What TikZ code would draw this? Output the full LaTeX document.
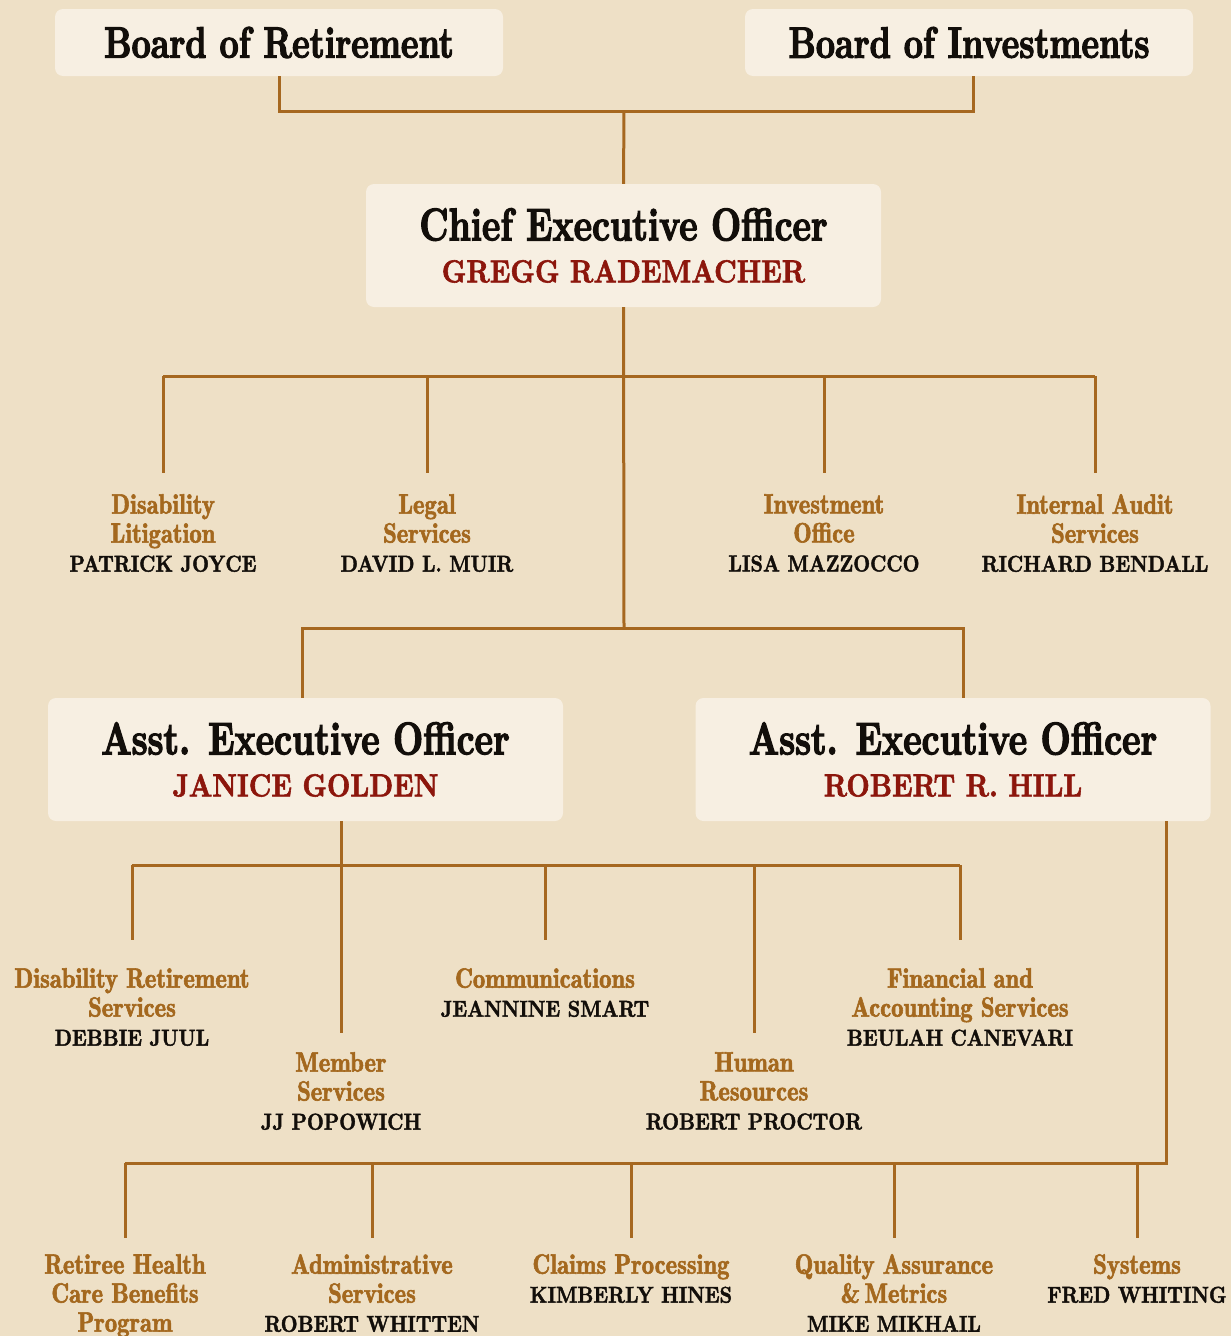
\documentclass[tikz,border=0pt]{standalone}
\usepackage{fontspec}
\newfontfamily\titlefont{lmroman10-bold.otf}[FakeStretch=0.76,FakeBold=2.5]
\newfontfamily\namefont{lmroman10-bold.otf}[FakeStretch=0.85,FakeBold=1.8]
\newfontfamily\deptfont{lmromandemi10-regular.otf}[FakeStretch=0.88,FakeBold=2]
\definecolor{bg}{RGB}{238,224,198}
\definecolor{boxfill}{RGB}{247,239,226}
\definecolor{linkcol}{RGB}{166,104,32}
\definecolor{deptcol}{RGB}{164,104,30}
\definecolor{redname}{RGB}{140,22,12}
\definecolor{ink}{RGB}{18,14,10}
\newcommand\headname[1]{{\namefont\fontsize{32}{42}\selectfont\color{redname}#1}}
\newcommand\leadname[1]{{\namefont\fontsize{23}{29}\selectfont\color{ink}#1}}
\tikzset{
  board/.style={fill=boxfill,rounded corners=8pt,inner sep=0pt,minimum width=448pt,
    minimum height=67pt,text=ink,font=\titlefont\fontsize{44}{44}\selectfont},
  exec/.style ={fill=boxfill,rounded corners=8pt,inner sep=0pt,minimum width=515pt,
    minimum height=123pt,align=center,text=ink,font=\fontsize{32}{42}\selectfont},
  unit/.style ={anchor=north,inner sep=0pt,align=center,text=deptcol,
    font=\deptfont\fontsize{28}{29}\selectfont},
  link/.style ={draw=linkcol,line width=3pt},
}
\begin{document}
\begin{tikzpicture}[x=1pt,y=-1pt]
  \fill[bg] (0,0) rectangle (1231,1336);
  \useasboundingbox (0,0) rectangle (1231,1336);
  % boards and executives
  \node[board] (bret) at (279,42.5) {Board of Retirement};
  \node[board] (binv) at (969,42.5) {Board of Investments};
  \node[exec] (ceo) at (623.5,245.5) {{\titlefont\fontsize{46}{42}\selectfont Chief Executive Officer}\\\headname{GREGG RADEMACHER}};
  \node[exec] (aeoL) at (305.5,759.5) {{\titlefont\fontsize{46}{42}\selectfont Asst. Executive Officer}\\\headname{JANICE GOLDEN}};
  \node[exec] (aeoR) at (953,759.5) {{\titlefont\fontsize{46}{42}\selectfont Asst. Executive Officer}\\\headname{ROBERT R. HILL}};
  % units under the CEO
  \node[unit] (dlit) at (163,494) {Disability\\Litigation\\\leadname{PATRICK JOYCE}};
  \node[unit] (legal) at (427,494) {Legal\\Services\\\leadname{DAVID L. MUIR}};
  \node[unit] (invest) at (824,494) {Investment\\Office\\\leadname{LISA MAZZOCCO}};
  \node[unit] (audit) at (1095,494) {Internal Audit\\Services\\\leadname{RICHARD BENDALL}};
  % units under the left AEO
  \node[unit] (drs) at (132,968) {Disability Retirement\\Services\\\leadname{DEBBIE JUUL}};
  \node[unit] (comm) at (545,968) {Communications\\\leadname{JEANNINE SMART}};
  \node[unit] (fin) at (960,968) {Financial and\\Accounting Services\\\leadname{BEULAH CANEVARI}};
  \node[unit] (mem) at (341,1052) {Member\\Services\\\leadname{JJ POPOWICH}};
  \node[unit] (hr) at (754,1052) {Human\\Resources\\\leadname{ROBERT PROCTOR}};
  % units under the right AEO
  \node[unit] (rhc) at (125,1254) {Retiree Health\\Care Benefits\\Program};
  \node[unit] (adm) at (372,1254) {Administrative\\Services\\\leadname{ROBERT WHITTEN}};
  \node[unit] (claims) at (631,1254) {Claims Processing\\\leadname{KIMBERLY HINES}};
  \node[unit] (qa) at (894,1254) {Quality Assurance\\\&\,Metrics\\\leadname{MIKE MIKHAIL}};
  \node[unit] (sys) at (1137,1254) {Systems\\\leadname{FRED WHITING}};

  % junctions
  \coordinate (jtop) at (624,111);
  \coordinate (jceo) at (624,376);
  \coordinate (jaeo) at (624,628);
  \coordinate (jleft) at (341,865);
  \coordinate (jright) at (1166,1163);

  \draw[link] (bret.south) |- (jtop) -| ([xshift=4pt]binv.south);
  \draw[link] (jtop) -- (ceo.north);
  \draw[link] (ceo.south) -- (jaeo);
  \draw[link] (dlit.north |- jceo) -- (audit.north |- jceo);
  \foreach \n in {dlit,legal,invest,audit}
    \draw[link,shorten >=21pt] (\n.north |- jceo) -- (\n.north);
  \draw[link] ([xshift=-3.5pt]aeoL.north) |- (jaeo) -| ([xshift=10pt]aeoR.north);

  \draw[link] (jleft |- aeoL.south) -- (jleft);
  \draw[link,shorten >=19pt] (jleft) -- (mem.north);
  \draw[link] (drs.north |- jleft) -- (fin.north |- jleft);
  \foreach \n in {drs,comm,fin}
    \draw[link,shorten >=28pt] (\n.north |- jleft) -- (\n.north);
  \draw[link,shorten >=19pt] (hr.north |- jleft) -- (hr.north);

  \draw[link] (jright |- aeoR.south) -- (jright) -- (rhc.north |- jright);
  \foreach \n in {rhc,adm,claims,qa,sys}
    \draw[link,shorten >=16pt] (\n.north |- jright) -- (\n.north);
\end{tikzpicture}
\end{document}
